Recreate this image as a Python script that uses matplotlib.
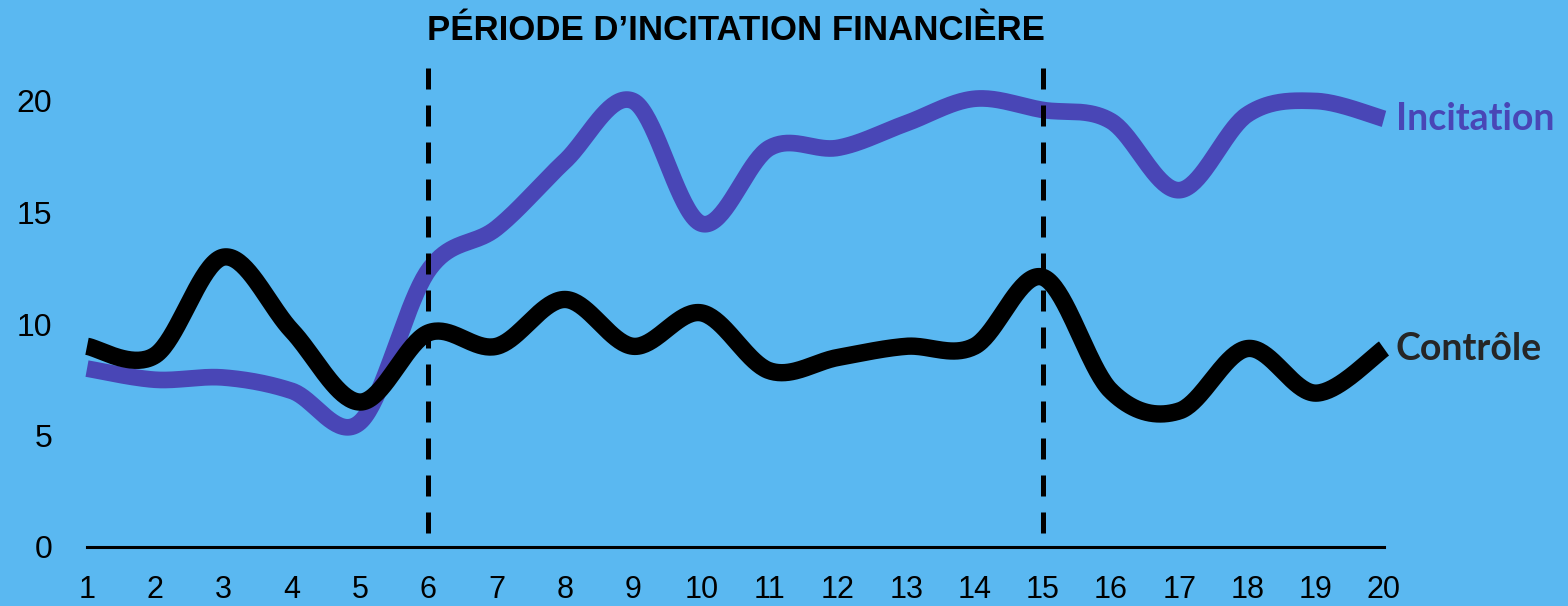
import matplotlib
matplotlib.use("Agg")
import matplotlib.pyplot as plt
import numpy as np

# data
mois = list(range(1, 21))
incitation = [8.0, 7.5, 7.6, 7.0, 5.6, 12.4, 14.3, 17.3, 20.0, 14.5,
              17.9, 17.9, 19.0, 20.1, 19.6, 19.1, 16.0, 19.4, 20.0, 19.2]
controle = [9.0, 8.6, 13.0, 9.7, 6.5, 9.6, 9.0, 11.1, 9.0, 10.5,
            7.9, 8.5, 9.0, 9.0, 12.1, 7.0, 6.1, 8.9, 6.9, 8.9]
periode = [6, 15]
titre = "PÉRIODE D\u2019INCITATION FINANCIÈRE"
yticks = [0, 5, 10, 15, 20]

bg = "#5ab8f1"
violet = "#4946b6"


def smooth(xs, ys, n=40):
    # catmull-rom, like the smoothed lines of a spreadsheet chart
    pts = np.column_stack([xs, ys]).astype(float)
    pts = np.vstack([pts[0], pts, pts[-1]])
    out = []
    t = np.linspace(0, 1, n, endpoint=False)[:, None]
    for i in range(1, len(pts) - 2):
        p0, p1, p2, p3 = pts[i - 1], pts[i], pts[i + 1], pts[i + 2]
        c1 = p1 + (p2 - p0) / 6
        c2 = p2 - (p3 - p1) / 6
        seg = ((1 - t) ** 3) * p1 + 3 * ((1 - t) ** 2) * t * c1 \
            + 3 * (1 - t) * t ** 2 * c2 + t ** 3 * p2
        out.append(seg)
    out.append(pts[-2][None, :])
    out = np.vstack(out)
    return out[:, 0], out[:, 1]


fig = plt.figure(figsize=(15.68, 6.06), dpi=100, facecolor=bg)
ax = fig.add_axes([87 / 1568, 59 / 606, 1297 / 1568, 24 * 22.3 / 606])
ax.set_facecolor(bg)
ax.set_xlim(1, 20)
ax.set_ylim(0, 24)

for s in ["top", "right", "left"]:
    ax.spines[s].set_visible(False)
ax.spines["bottom"].set_linewidth(2.2)
ax.spines["bottom"].set_color("black")

ax.set_xticks(mois)
ax.set_yticks(yticks)
ax.tick_params(axis="x", length=0, pad=20, labelsize=22, colors="black")
ax.tick_params(axis="y", length=0, pad=25, labelsize=23, colors="black")
for lab in ax.get_xticklabels() + ax.get_yticklabels():
    lab.set_fontfamily("Liberation Sans")

xs, ys = smooth(mois, incitation)
ax.plot(xs, ys, color=violet, lw=12, solid_capstyle="butt", clip_on=False, zorder=3)
xs, ys = smooth(mois, controle)
ax.plot(xs, ys, color="black", lw=12.5, solid_capstyle="butt", clip_on=False, zorder=4)

for p in periode:
    ax.plot([p, p], [21.5, 0.45], color="black", lw=3.6,
            linestyle=(0, (4.2, 3.2)), dash_capstyle="butt", zorder=5, clip_on=False)

ax.text(20.17, incitation[-1], "Incitation", color=violet, fontsize=27,
        fontweight="bold", family="Lato", ha="left", va="center", clip_on=False)
ax.text(20.17, controle[-1], "Contrôle", color="#262626", fontsize=27,
        fontweight="bold", family="Lato", ha="left", va="center", clip_on=False)

fig.text(736 / 1568, 1 - 31 / 606, titre, fontsize=25, fontweight="bold",
         family="Liberation Sans", ha="center", va="center", color="black")

fig.savefig("out.png", dpi=100, facecolor=bg)
